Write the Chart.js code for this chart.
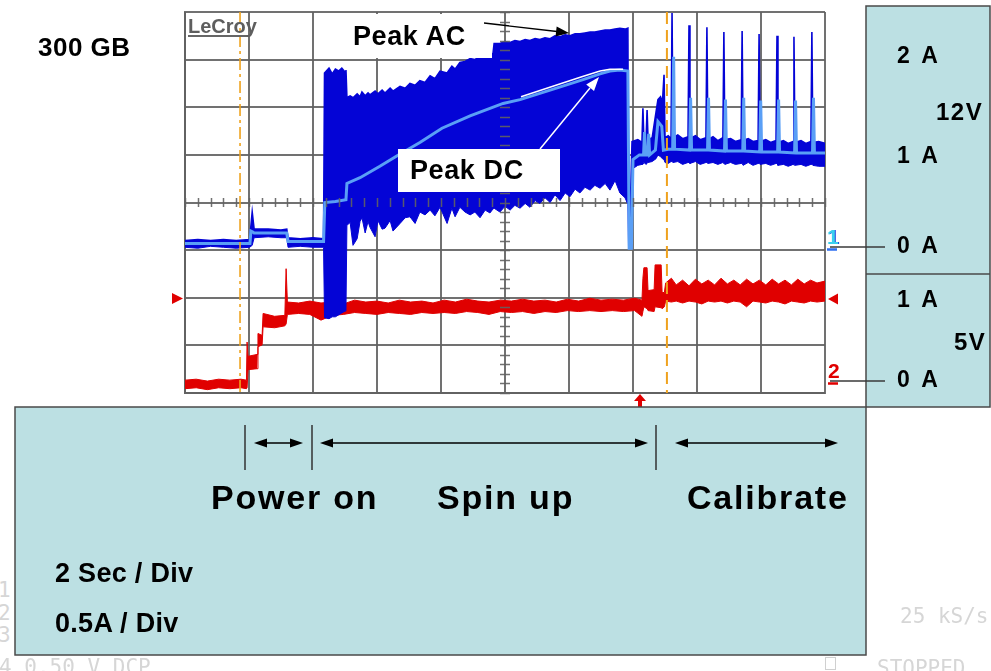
<!DOCTYPE html>
<html><head><meta charset="utf-8">
<script src="https://cdn.jsdelivr.net/npm/chart.js@4.4.0/dist/chart.umd.min.js"></script>
<style>
html,body{margin:0;padding:0;background:#fff;}
#wrap{position:relative;width:991px;height:671px;overflow:hidden;background:#fff;}
#c{position:absolute;left:0;top:0;}
#ov{position:absolute;left:0;top:0;}
.t{position:absolute;white-space:nowrap;font-family:"Liberation Sans",Arial,sans-serif;font-weight:bold;color:#000;}
.f{position:absolute;white-space:nowrap;font-family:"DejaVu Sans Mono",monospace;color:#d6d6d6;}
</style></head>
<body><div id="wrap">
<div id="under"></div>
<canvas id="c" width="991" height="671"></canvas>
<svg id="ov" width="991" height="671" xmlns="http://www.w3.org/2000/svg">
  <line x1="188" y1="36" x2="247" y2="36" stroke="#666" stroke-width="2"/>
  <rect x="344" y="14" width="148" height="44" fill="#fff"/>
  <line x1="484" y1="23" x2="557" y2="31.5" stroke="#000" stroke-width="1.3"/>
  <polygon points="569,33 556.7,26.5 555.5,36.5" fill="#000"/>
  <rect x="398" y="149" width="162" height="43" fill="#fff"/>
  <line x1="540" y1="149" x2="590" y2="88" stroke="#fff" stroke-width="1.5"/>
  <polygon points="599,77 594,91 586.2,84.6" fill="#fff"/>
  <line x1="827" y1="249.5" x2="837" y2="249.5" stroke="#2f6ff0" stroke-width="2.5"/>
  <line x1="828" y1="383.5" x2="838" y2="383.5" stroke="#e00000" stroke-width="2.5"/>
  <polygon points="172,293 183,298.5 172,304" fill="#e00000"/>
  <polygon points="828,299 838,293.5 838,304.5" fill="#e00000"/>
  <polygon points="640,394 634,401 646,401" fill="#e00000"/>
  <rect x="638" y="400" width="4" height="7" fill="#e00000"/>
  <rect x="866" y="6" width="124" height="401" fill="#bce0e3" stroke="#4a4a4a" stroke-width="1.5"/>
  <line x1="866" y1="274" x2="990" y2="274" stroke="#4a4a4a" stroke-width="1.5"/>
  <line x1="830" y1="247" x2="885" y2="247" stroke="#3a3a3a" stroke-width="1.5"/>
  <line x1="830" y1="381" x2="885" y2="381" stroke="#3a3a3a" stroke-width="1.5"/>
  <rect x="15" y="407" width="851" height="248" fill="#bce0e3" stroke="#4a4a4a" stroke-width="1.5"/>
  <line x1="245" y1="425" x2="245" y2="470" stroke="#333" stroke-width="1.5"/>
  <line x1="312" y1="425" x2="312" y2="470" stroke="#333" stroke-width="1.5"/>
  <line x1="656" y1="425" x2="656" y2="470" stroke="#333" stroke-width="1.5"/>
  <line x1="262" y1="443" x2="295" y2="443" stroke="#000" stroke-width="1.3"/>
  <polygon points="254,443 267,438.5 267,447.5" fill="#000"/>
  <polygon points="303,443 290,438.5 290,447.5" fill="#000"/>
  <line x1="328" y1="443" x2="640" y2="443" stroke="#000" stroke-width="1.3"/>
  <polygon points="320,443 333,438.5 333,447.5" fill="#000"/>
  <polygon points="648,443 635,438.5 635,447.5" fill="#000"/>
  <line x1="683" y1="443" x2="830" y2="443" stroke="#000" stroke-width="1.3"/>
  <polygon points="675,443 688,438.5 688,447.5" fill="#000"/>
  <polygon points="838,443 825,438.5 825,447.5" fill="#000"/>
  <rect x="825.5" y="657.5" width="10" height="12" fill="none" stroke="#d0d0d0" stroke-width="1"/>
</svg>
<div id="labels"></div>
</div>
<script>
// ---------------- DATA (time in s, current in A) ----------------
// 12V channel (ch1) envelope: min / max of the acquired trace
const ch1Time = [0.00,0.40,0.80,1.20,1.60,2.02,2.10,2.16,2.60,3.00,3.18,3.22,3.60,4.00,4.33,
 4.36,4.50,4.60,4.70,4.80,4.90,5.00,5.03,5.06,5.16,5.25,5.38,5.47,5.53,5.63,5.72,5.78,5.94,6.03,
 6.16,6.25,6.41,6.50,6.72,6.88,7.03,7.19,7.34,7.50,7.66,7.81,7.97,8.19,8.34,8.44,8.59,8.75,8.91,
 9.06,9.22,9.38,9.53,9.62,9.66,9.84,10.00,10.16,10.31,10.47,10.63,10.78,10.94,11.09,11.25,11.41,
 11.56,11.72,11.88,12.03,12.19,12.34,12.50,12.66,12.81,12.97,13.13,13.28,13.44,13.59,13.75,13.84,
 13.86,13.92,13.97,14.15,14.28,14.31,14.34,14.41,14.44,14.47,14.60,14.72,14.78,14.86,14.92,14.97,
 15.00,15.10,15.19,15.22,15.25,15.40,15.55,15.72,15.75,15.78,15.95,16.10,16.28,16.31,16.34,16.50,
 16.65,16.81,16.84,16.87,17.05,17.20,17.38,17.41,17.44,17.60,17.75,17.91,17.94,17.97,18.15,18.30,
 18.47,18.50,18.53,18.70,18.85,19.00,19.03,19.06,19.25,19.40,19.56,19.59,19.62,19.80,20.00];
const ch1Max = [0.10,0.11,0.10,0.11,0.10,0.11,0.40,0.22,0.22,0.21,0.22,0.13,0.12,0.13,0.12,
 1.86,1.91,1.85,1.90,1.88,1.91,1.87,1.89,1.60,1.62,1.60,1.64,1.61,1.66,1.62,1.65,1.63,1.67,1.64,
 1.68,1.65,1.70,1.67,1.72,1.70,1.75,1.73,1.78,1.76,1.83,1.80,1.88,1.86,1.93,1.90,1.97,1.98,2.01,
 2.00,2.04,2.03,2.06,2.05,2.17,2.17,2.19,2.18,2.20,2.19,2.21,2.20,2.22,2.21,2.23,2.22,
 2.25,2.24,2.26,2.25,2.27,2.27,2.28,2.29,2.29,2.30,2.31,2.31,2.32,2.33,2.32,2.33,
 0.50,0.50,1.14,1.16,1.13,1.49,1.15,1.17,1.47,1.16,1.18,1.45,1.58,1.61,1.55,1.84,
 1.18,1.20,1.17,2.49,1.18,1.21,1.17,1.19,2.36,1.17,1.20,1.16,1.18,2.34,1.16,1.19,
 1.15,1.18,2.29,1.16,1.17,1.14,1.16,2.30,1.15,1.17,1.14,1.15,2.27,1.14,1.16,1.13,
 1.15,2.25,1.13,1.15,1.12,1.14,2.24,1.13,1.15,1.12,1.14,2.29,1.13,1.14,1.12];
const ch1Min = [0.03,0.02,0.04,0.03,0.02,0.03,0.05,0.13,0.14,0.13,0.13,0.03,0.04,0.03,0.03,
 -0.71,-0.72,-0.70,-0.70,-0.68,-0.66,-0.64,-0.63,0.26,0.29,0.05,0.12,0.30,0.34,0.18,0.30,0.24,0.14,0.31,
 0.22,0.23,0.31,0.20,0.28,0.34,0.35,0.28,0.40,0.37,0.42,0.36,0.45,0.28,0.44,0.35,0.45,0.40,0.37,
 0.40,0.34,0.42,0.39,0.43,0.44,0.40,0.46,0.42,0.47,0.44,0.49,0.45,0.52,0.49,0.55,0.50,
 0.58,0.52,0.60,0.56,0.64,0.60,0.66,0.63,0.68,0.65,0.70,0.63,0.73,0.60,0.55,0.48,
 0.02,0.02,0.85,0.89,0.90,0.90,0.92,0.90,0.91,0.92,0.93,0.96,1.00,0.98,0.96,0.95,
 0.92,0.91,0.93,0.93,0.92,0.93,0.90,0.92,0.92,0.91,0.93,0.90,0.92,0.92,0.91,0.92,
 0.90,0.92,0.91,0.90,0.92,0.90,0.91,0.91,0.89,0.92,0.89,0.91,0.91,0.90,0.91,0.89,
 0.91,0.91,0.89,0.90,0.88,0.90,0.90,0.89,0.90,0.88,0.90,0.90,0.89,0.88,0.88];
// 12V channel averaged (DC) trace
const dcTime = [0,2.03,2.06,2.12,2.16,3.18,3.22,4.33,4.37,4.70,5.03,5.06,5.47,6.09,6.63,7.34,8.03,8.91,
 9.94,10.47,11.41,12.44,12.97,13.28,13.59,13.84,13.88,13.95,14.00,14.20,14.33,14.36,14.39,14.46,14.49,
 14.52,14.70,14.78,14.90,14.95,15.10,15.24,15.27,15.30,15.77,15.80,15.83,16.33,16.36,16.39,16.86,16.89,
 16.92,17.43,17.46,17.49,17.96,17.99,18.02,18.52,18.55,18.58,19.05,19.08,19.11,19.61,19.64,19.67,20.00];
const dcVal = [0.07,0.07,0.20,0.19,0.18,0.18,0.09,0.09,0.50,0.51,0.53,0.70,0.76,0.88,0.99,1.13,1.28,1.41,
 1.54,1.58,1.68,1.79,1.85,1.88,1.89,1.88,0.02,0.02,0.95,1.00,1.00,1.24,1.00,1.00,1.22,
 1.00,1.05,1.35,1.30,1.05,1.06,1.06,2.03,1.06,1.05,1.60,1.05,1.05,1.60,1.05,1.04,1.58,
 1.04,1.04,1.60,1.04,1.03,1.57,1.03,1.03,1.58,1.03,1.02,1.57,1.02,1.02,1.60,1.02,1.02];
// highlighted "Peak DC" portion
const peakDcTime = [10.50,11.40,12.40,12.97,13.28,13.69];
const peakDcVal  = [1.61,1.71,1.82,1.88,1.90,1.90];
// 5V channel (ch2) envelope
const ch2Time = [0.00,0.35,0.70,1.05,1.40,1.75,1.92,1.94,1.97,2.25,2.28,2.41,2.44,2.80,3.12,3.16,3.20,
 3.55,3.90,4.25,4.60,4.95,5.30,5.65,6.00,6.35,6.70,7.05,7.40,7.75,8.10,8.45,8.80,9.15,9.50,9.85,
 10.20,10.55,10.90,11.25,11.60,11.95,12.30,12.65,13.00,13.35,13.70,14.05,14.28,14.31,14.34,14.44,
 14.47,14.66,14.69,14.88,14.91,14.98,15.02,15.20,15.35,15.55,15.75,15.95,16.15,16.35,16.55,16.75,
 16.95,17.15,17.35,17.55,17.75,17.95,18.15,18.35,18.55,18.75,18.95,19.15,19.35,19.55,19.75,20.00];
const ch2Max = [0.03,0.04,0.02,0.04,0.03,0.04,0.03,0.43,0.28,0.30,0.52,0.50,0.73,0.70,0.71,1.20,0.85,
 0.84,0.86,0.84,0.85,0.83,0.87,0.85,0.86,0.84,0.87,0.85,0.86,0.84,0.87,0.85,0.88,0.86,0.85,0.87,
 0.86,0.88,0.86,0.87,0.85,0.88,0.86,0.89,0.87,0.88,0.87,0.89,0.87,1.10,1.21,1.21,
 0.97,0.98,1.24,1.24,0.95,0.95,1.05,1.10,1.03,1.08,1.02,1.09,1.04,1.08,1.03,1.10,
 1.04,1.08,1.03,1.09,1.04,1.08,1.03,1.09,1.04,1.08,1.03,1.09,1.04,1.08,1.05,1.07];
const ch2Min = [-0.06,-0.05,-0.07,-0.05,-0.06,-0.05,-0.06,-0.05,0.14,0.15,0.38,0.40,0.59,0.58,0.60,0.62,0.72,
 0.73,0.72,0.66,0.71,0.72,0.74,0.73,0.72,0.74,0.73,0.72,0.74,0.73,0.74,0.73,0.75,0.74,0.72,0.75,
 0.74,0.75,0.73,0.75,0.74,0.76,0.75,0.76,0.75,0.76,0.75,0.76,0.70,0.75,0.80,0.78,
 0.76,0.75,0.80,0.79,0.78,0.80,0.86,0.85,0.86,0.84,0.86,0.85,0.83,0.86,0.85,0.86,
 0.84,0.86,0.85,0.80,0.86,0.85,0.84,0.86,0.85,0.83,0.86,0.85,0.84,0.86,0.85,0.86];
// event markers (s)
const powerOnMarker = 1.72;
const calibrateMarker = 15.06;

// ---------------- CHART ----------------
const BLUE = '#0404d6', RED = '#e00000', LIGHT = '#5a9ff6';
const GRID = 'rgba(98,98,98,0.9)';
const pts = (ts, vs) => ts.map((t, i) => ({x: t, y: vs[i]}));

const deco = {
  id: 'deco',
  afterDraw(chart) {
    const {ctx, scales: {x, y}, chartArea: a} = chart;
    ctx.save();
    ctx.strokeStyle = GRID; ctx.lineWidth = 1.5;
    const yc = y.getPixelForValue(0.5), xc = x.getPixelForValue(10);
    ctx.beginPath();
    for (let t = 0; t <= 20.001; t += 0.4) {
      const px = Math.round(x.getPixelForValue(t)) + 0.5;
      ctx.moveTo(px, yc - 4.5); ctx.lineTo(px, yc + 4.5);
    }
    for (let v = -1.5; v <= 2.5001; v += 0.1) {
      const py = Math.round(y.getPixelForValue(v)) + 0.5;
      ctx.moveTo(xc - 5, py); ctx.lineTo(xc + 5, py);
    }
    ctx.stroke();
    ctx.strokeStyle = '#efa21e'; ctx.lineWidth = 1.6;
    let px = x.getPixelForValue(powerOnMarker);
    ctx.setLineDash([12, 4, 3, 4]);
    ctx.beginPath(); ctx.moveTo(px, a.top); ctx.lineTo(px, a.bottom); ctx.stroke();
    px = x.getPixelForValue(calibrateMarker);
    ctx.lineWidth = 2; ctx.setLineDash([12, 6]);
    ctx.beginPath(); ctx.moveTo(px, a.top); ctx.lineTo(px, a.bottom); ctx.stroke();
    ctx.restore();
  }
};

new Chart(document.getElementById('c').getContext('2d'), {
  type: 'line',
  data: { datasets: [
    {label: '5V min', data: pts(ch2Time, ch2Min), yAxisID: 'y2', borderColor: RED, borderWidth: 1, fill: false, order: 4},
    {label: '5V max', data: pts(ch2Time, ch2Max), yAxisID: 'y2', borderColor: RED, borderWidth: 1, fill: '-1', backgroundColor: RED, order: 4},
    {label: '12V min', data: pts(ch1Time, ch1Min), yAxisID: 'y', borderColor: BLUE, borderWidth: 1, fill: false, order: 3},
    {label: '12V max', data: pts(ch1Time, ch1Max), yAxisID: 'y', borderColor: BLUE, borderWidth: 1.6, fill: '-1', backgroundColor: BLUE, order: 3},
    {label: '12V DC', data: pts(dcTime, dcVal), yAxisID: 'y', borderColor: LIGHT, borderWidth: 3, fill: false, order: 2},
    {label: 'Peak DC', data: pts(peakDcTime, peakDcVal), yAxisID: 'y', borderColor: '#ffffff', borderWidth: 1.5, fill: false, order: 1}
  ]},
  options: {
    animation: false, responsive: false, devicePixelRatio: 1,
    layout: {padding: {left: 185, right: 166, top: 12, bottom: 278}},
    elements: {point: {radius: 0}, line: {tension: 0}},
    plugins: {legend: {display: false}, tooltip: {enabled: false}},
    scales: {
      x: {type: 'linear', min: 0, max: 20, z: 1,
          ticks: {display: false, stepSize: 2},
          grid: {color: GRID, lineWidth: 2, drawTicks: false},
          border: {display: true, color: GRID, width: 2}},
      y: {type: 'linear', min: -1.5, max: 2.5, z: 1,
          ticks: {display: false, stepSize: 0.5},
          grid: {color: GRID, lineWidth: 2, drawTicks: false},
          border: {display: true, color: GRID, width: 2}},
      y2: {type: 'linear', min: -0.105, max: 3.895, display: false}
    }
  },
  plugins: [deco]
});

// ---------------- TEXT ----------------
function addText(parent, txt, x, base, size, extra) {
  const d = document.createElement('div');
  d.className = (extra && extra.cls) || 't';
  d.textContent = txt;
  d.style.left = x + 'px';
  d.style.fontSize = size + 'px';
  d.style.lineHeight = size + 'px';
  d.style.top = (base - 0.8465 * size) + 'px';
  if (extra) {
    if (extra.ls) d.style.letterSpacing = extra.ls + 'px';
    if (extra.color) d.style.color = extra.color;
    if (extra.font) d.style.fontFamily = extra.font;
    if (extra.shadow) d.style.textShadow = extra.shadow;
  }
  document.getElementById(parent).appendChild(d);
}
addText('under', '1', -2, 598, 21, {cls: 'f'});
addText('under', '2', -2, 621, 21, {cls: 'f'});
addText('under', '3', -2, 643, 21, {cls: 'f'});
addText('labels', '4 0.50 V DCP', -1, 675, 21, {cls: 'f'});
addText('labels', '25 kS/s', 900, 624, 21, {cls: 'f'});
addText('labels', 'STOPPED', 877, 676, 21, {cls: 'f'});

addText('labels', 'LeCroy', 188, 33, 20, {font: '"Liberation Sans Narrow","Liberation Sans",Arial,sans-serif', color: '#5e5e5e'});
addText('labels', '300 GB', 38, 56, 26, {ls: 0.5});
addText('labels', 'Peak AC', 353, 46, 27, {ls: 0.6});
addText('labels', 'Peak DC', 410, 180, 27, {ls: 0.6});
addText('labels', '1', 827, 244, 21, {color: '#3ad0ee', shadow: '1px 0 0 #1b3fe0'});
addText('labels', '2', 828, 378, 21, {color: RED});

addText('labels', '2 A', 897, 63, 23, {ls: 3});
addText('labels', '12V', 936, 120, 24, {ls: 1.5});
addText('labels', '1 A', 897, 163, 23, {ls: 3});
addText('labels', '0 A', 897, 253, 23, {ls: 3});
addText('labels', '1 A', 897, 307, 23, {ls: 3});
addText('labels', '5V', 954, 350, 24, {ls: 1.5});
addText('labels', '0 A', 897, 387, 23, {ls: 3});

addText('labels', 'Power on', 211, 509, 34, {ls: 1.8});
addText('labels', 'Spin up', 437, 509, 34, {ls: 1.8});
addText('labels', 'Calibrate', 687, 509, 34, {ls: 1.8});
addText('labels', '2 Sec / Div', 55, 583, 27, {ls: 0.3});
addText('labels', '0.5A / Div', 55, 633, 27, {ls: 0.3});
</script>
</body></html>
